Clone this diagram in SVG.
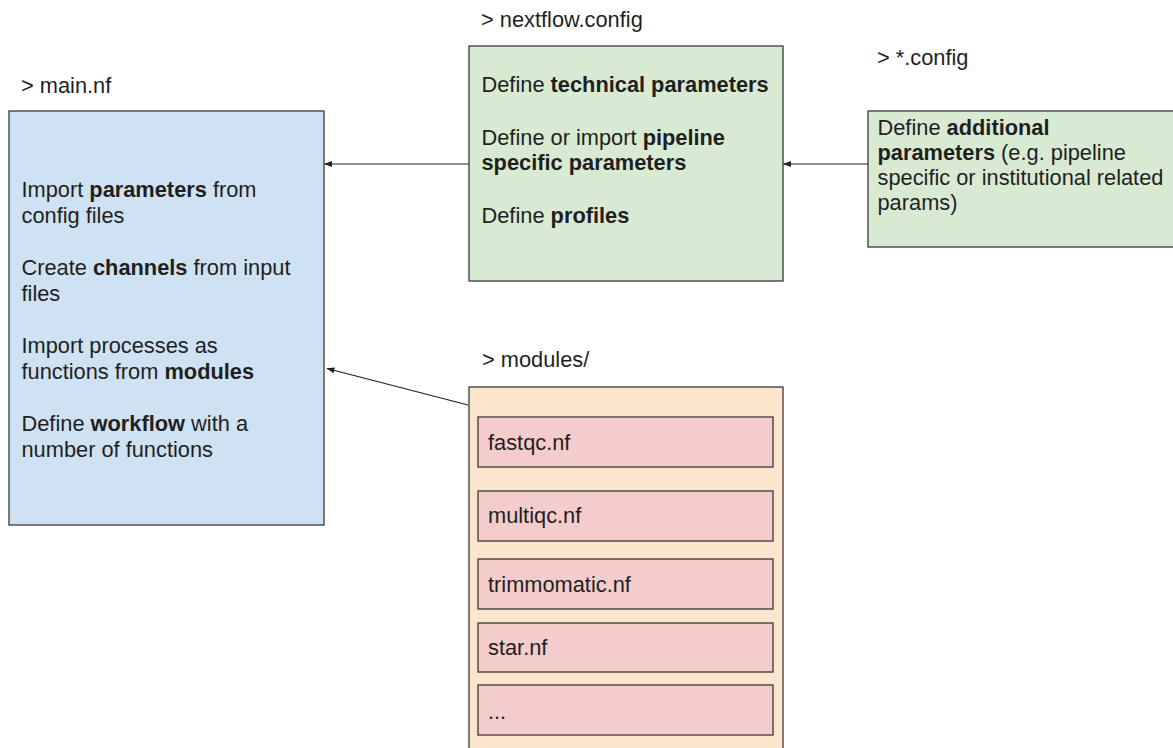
<svg xmlns="http://www.w3.org/2000/svg" width="1173" height="748" viewBox="0 0 1173 748">
<style>
text{font-family:"Liberation Sans",Arial,sans-serif;font-size:21.8px;fill:#1f1f1f}
.b{font-weight:bold}
.box{stroke:#3a3a3a;stroke-width:1.3}
.blue{fill:#cfe2f3}.green{fill:#d9ead3}.orange{fill:#fce5cd}.pink{fill:#f4cccc}
.conn{stroke:#222;stroke-width:1.2;fill:none;marker-end:url(#ah)}
</style>
<defs>
<marker id="ah" viewBox="0 0 8 6" refX="7.5" refY="3" markerWidth="8" markerHeight="6" markerUnits="userSpaceOnUse" orient="auto">
<path d="M0,0 L8,3 L0,6 Z" fill="#222"/>
</marker>
</defs>
<rect width="1173" height="748" fill="#fff"/>

<g id="main-nf">
<text x="21" y="93">&gt; main.nf</text>
<rect class="box blue" x="9" y="111" width="315" height="414"/>
<text x="21.5" y="197">Import <tspan class="b">parameters</tspan> from</text>
<text x="21.5" y="223">config files</text>
<text x="21.5" y="275">Create <tspan class="b">channels</tspan> from input</text>
<text x="21.5" y="301">files</text>
<text x="21.5" y="353">Import processes as</text>
<text x="21.5" y="379">functions from <tspan class="b">modules</tspan></text>
<text x="21.5" y="431">Define <tspan class="b">workflow</tspan> with a</text>
<text x="21.5" y="457">number of functions</text>
</g>

<g id="nextflow-config">
<text x="481" y="27">&gt; nextflow.config</text>
<rect class="box green" x="469" y="46" width="314" height="235"/>
<text x="481.5" y="92">Define <tspan class="b">technical parameters</tspan></text>
<text x="481.5" y="145">Define or import <tspan class="b">pipeline</tspan></text>
<text x="481.5" y="170" class="b">specific parameters</text>
<text x="481.5" y="223">Define <tspan class="b">profiles</tspan></text>
</g>

<g id="star-config">
<text x="877" y="65">&gt; *.config</text>
<rect class="box green" x="868" y="111" width="320" height="136"/>
<text x="877.5" y="135">Define <tspan class="b">additional</tspan></text>
<text x="877.5" y="160"><tspan class="b">parameters</tspan> (e.g. pipeline</text>
<text x="877.5" y="185">specific or institutional related</text>
<text x="877.5" y="210">params)</text>
</g>

<g id="modules">
<text x="482" y="367">&gt; modules/</text>
<rect class="box orange" x="469" y="387" width="314" height="380"/>
</g>
<g id="fastqc">
<rect class="box pink" x="478" y="417" width="295" height="50"/>
<text x="488" y="450">fastqc.nf</text>
</g>
<g id="multiqc">
<rect class="box pink" x="478" y="491" width="295" height="50"/>
<text x="488" y="523">multiqc.nf</text>
</g>
<g id="trimmomatic">
<rect class="box pink" x="478" y="559" width="295" height="50"/>
<text x="488" y="592">trimmomatic.nf</text>
</g>
<g id="star">
<rect class="box pink" x="478" y="623" width="295" height="49"/>
<text x="488" y="655">star.nf</text>
</g>
<g id="more">
<rect class="box pink" x="478" y="685" width="295" height="50"/>
<text x="488" y="719">...</text>
</g>

<g id="connectors">
<line class="conn" x1="469" y1="164" x2="324.5" y2="164"/>
<line class="conn" x1="868" y1="164" x2="783.5" y2="164"/>
<line class="conn" x1="468" y1="405" x2="327" y2="368.5"/>
</g>
</svg>
